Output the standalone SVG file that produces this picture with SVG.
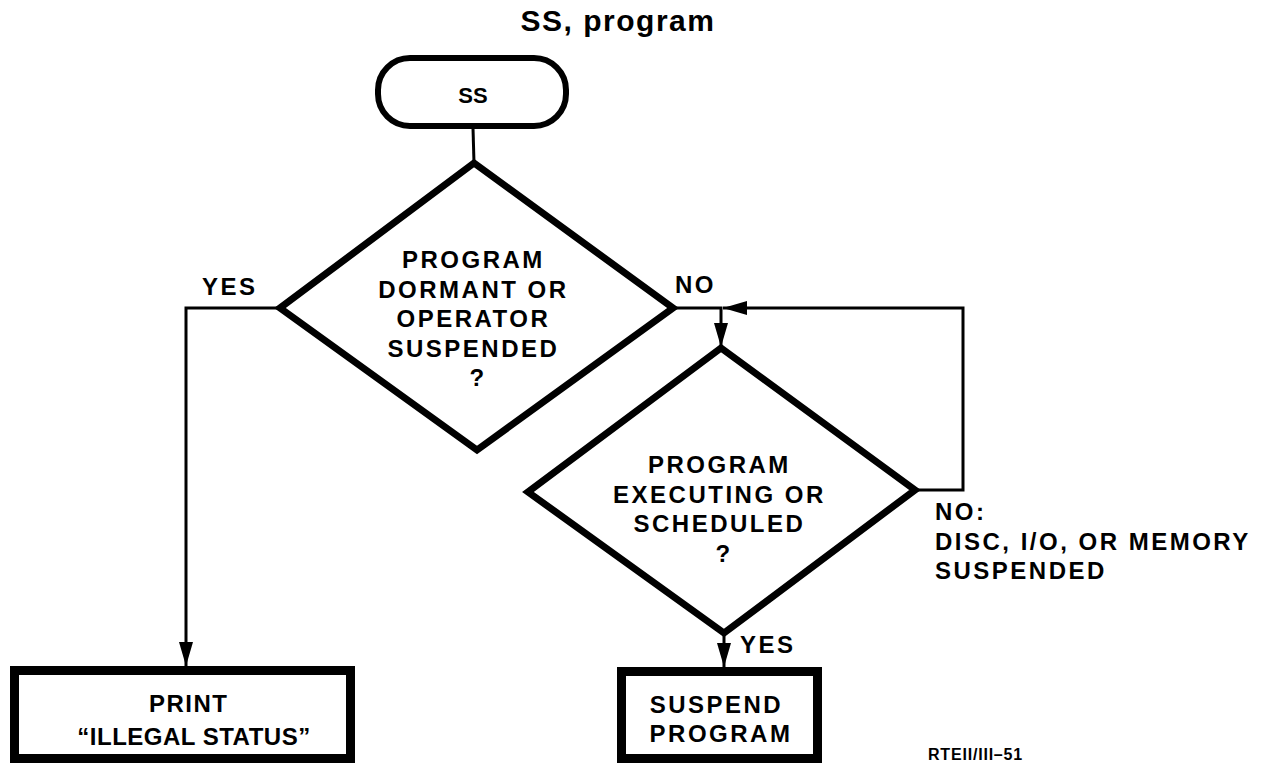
<svg xmlns="http://www.w3.org/2000/svg" width="1266" height="767" viewBox="0 0 1266 767">
  <style>
    .shape { fill: #fff; stroke: #000; stroke-linejoin: miter; }
    .term { stroke-width: 6; }
    .dec { stroke-width: 7; }
    .proc { stroke-width: 9; }
    .wire { fill: none; stroke: #000; stroke-width: 3; }
    text { font-family: "Liberation Sans", Arial, sans-serif; font-weight: bold; fill: #000; }
    .lbl { font-size: 24px; letter-spacing: 2.5px; }
    .mid { text-anchor: middle; }
  </style>
  <defs>
    <marker id="arrow" markerUnits="userSpaceOnUse" markerWidth="24" markerHeight="14" refX="24" refY="7" orient="auto">
      <path d="M0,0 L24,7 L0,14 z" fill="#000"/>
    </marker>
  </defs>

  <!-- title -->
  <text x="618" y="31" class="mid" font-size="30" letter-spacing="1.5">SS, program</text>

  <!-- connectors -->
  <g id="connectors">
    <line class="wire" x1="473" y1="128" x2="474" y2="163"/>
    <polyline class="wire" points="280,308 186,308 186,666" marker-end="url(#arrow)"/>
    <polyline class="wire" points="673,308 721,308 721,347" marker-end="url(#arrow)"/>
    <polyline class="wire" points="915,490 963,490 963,308 723,308" marker-end="url(#arrow)"/>
    <line class="wire" x1="724" y1="633" x2="724" y2="667" marker-end="url(#arrow)"/>
  </g>

  <!-- start terminal -->
  <g id="start">
    <rect class="shape term" x="378" y="58" width="188" height="68" rx="32"/>
    <text x="473" y="103" class="mid" font-size="22">SS</text>
  </g>

  <!-- first decision -->
  <g id="dormant">
    <polygon class="shape dec" points="474,163 673,308 477,450 280,308"/>
    <text class="lbl mid" x="478">
      <tspan x="478" y="268">PROGRAM</tspan>
      <tspan x="478" y="298">DORMANT OR</tspan>
      <tspan x="478" y="327">OPERATOR</tspan>
      <tspan x="478" y="357">SUSPENDED</tspan>
      <tspan x="478" y="386">?</tspan>
    </text>
  </g>
  <text class="lbl" x="202" y="295">YES</text>
  <text class="lbl" x="675" y="293">NO</text>

  <!-- second decision -->
  <g id="executing">
    <polygon class="shape dec" points="721,348 915,490 724,633 528,492"/>
    <text class="lbl mid" x="724">
      <tspan x="724" y="473">PROGRAM</tspan>
      <tspan x="724" y="503">EXECUTING OR</tspan>
      <tspan x="724" y="532">SCHEDULED</tspan>
      <tspan x="724" y="562">?</tspan>
    </text>
  </g>
  <text class="lbl" x="935">
    <tspan x="935" y="520">NO:</tspan>
    <tspan x="935" y="550">DISC, I/O, OR MEMORY</tspan>
    <tspan x="935" y="579">SUSPENDED</tspan>
  </text>
  <text class="lbl" x="740" y="653">YES</text>

  <!-- print illegal status -->
  <g id="print">
    <rect class="shape proc" x="14.5" y="670.5" width="336" height="88"/>
    <text class="mid" font-size="24" x="192">
      <tspan x="192" y="712" letter-spacing="1.5">PRINT</tspan>
      <tspan x="194" y="745" letter-spacing="0.5">“ILLEGAL STATUS”</tspan>
    </text>
  </g>

  <!-- suspend program -->
  <g id="suspend">
    <rect class="shape proc" x="621.5" y="671.5" width="196" height="87"/>
    <text class="lbl mid" x="721">
      <tspan x="721" y="713">SUSPEND</tspan>
      <tspan x="721" y="742">PROGRAM</tspan>
    </text>
  </g>

  <text x="928" y="760" font-size="16" letter-spacing="0.8">RTEII/III–51</text>
</svg>
